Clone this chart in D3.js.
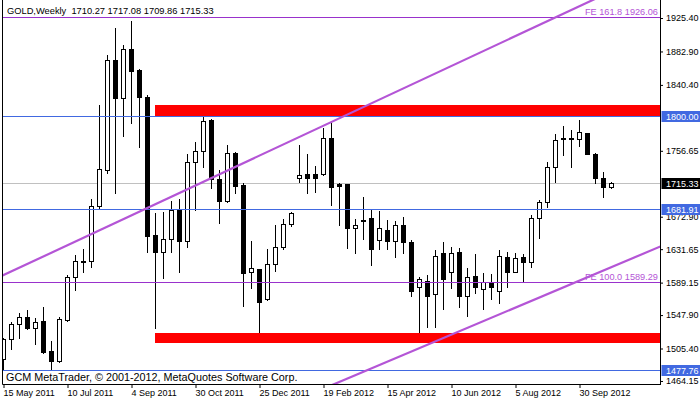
<!DOCTYPE html>
<html><head><meta charset="utf-8">
<script src="https://cdn.jsdelivr.net/npm/d3@7"></script>
<style>
body{margin:0;background:#fff}
svg{display:block}
text{font-family:"Liberation Sans",Arial,sans-serif}
</style>
</head><body>
<svg id="c" width="700" height="402"></svg>
<script>
// ---- data (weekly OHLC) ----
const opens  = [1491.6,1517.0,1536.1,1545.0,1531.0,1539.9,1501.8,1489.9,1541.6,1595.8,
                1615.3,1616.2,1686.9,1732.2,1872.0,1823.3,1885.6,1859.3,1824.6,1649.2,
                1628.4,1644.1,1681.4,1642.4,1742.0,1755.9,1795.8,1720.8,1693.3,1753.4,
                1713.2,1602.2,1606.0,1567.9,1612.3,1633.9,1663.2,1721.6,1726.7,1726.7,
                1727.1,1772.5,1714.4,1714.4,1658.1,1667.5,1670.8,1643.3,1656.0,1642.4,
                1662.3,1640.3,1584.0,1591.6,1574.2,1626.3,1602.2,1627.6,1572.1,1597.9,
                1580.6,1588.2,1578.9,1622.1,1603.0,1621.2,1615.7,1670.8,1691.1,1735.6,
                1772.0,1773.3,1771.2,1778.8,1752.6,1721.6,1710.27];
const highs  = [1519.0,1539.5,1550.1,1554.3,1543.7,1558.5,1514.5,1545.0,1598.4,1623.8,
                1632.3,1694.9,1814.8,1878.4,1912.3,1891.1,1921.6,1860.0,1827.1,1677.2,
                1678.9,1693.3,1694.9,1752.6,1767.4,1802.5,1796.5,1732.2,1764.0,1755.5,
                1715.3,1642.0,1606.5,1631.8,1662.3,1669.5,1679.3,1764.0,1752.6,1737.3,
                1786.0,1792.4,1716.1,1714.9,1669.5,1697.5,1681.4,1680.1,1668.7,1667.8,
                1672.1,1643.3,1596.7,1598.8,1630.6,1641.2,1633.9,1632.6,1607.3,1625.1,
                1600.9,1600.1,1630.6,1627.6,1626.3,1625.1,1675.0,1694.1,1742.8,1778.0,
                1788.1,1783.0,1795.8,1779.7,1753.4,1729.3,1717.08];
const lows   = [1479.0,1504.3,1519.2,1529.7,1510.7,1499.2,1478.0,1488.6,1540.8,1579.7,
                1603.0,1609.4,1682.2,1728.0,1702.6,1775.4,1792.4,1761.9,1628.4,1531.0,
                1595.4,1628.4,1603.0,1634.8,1681.4,1735.6,1709.8,1665.3,1692.0,1702.6,
                1559.8,1582.7,1522.5,1567.0,1604.3,1631.8,1661.5,1717.4,1703.4,1704.7,
                1725.9,1687.8,1662.3,1633.5,1627.1,1644.5,1611.5,1631.4,1631.4,1622.1,
                1626.3,1572.5,1526.8,1533.1,1532.3,1555.2,1581.8,1557.7,1547.1,1576.3,
                1555.2,1567.9,1562.8,1584.0,1602.2,1589.5,1609.4,1645.4,1685.6,1717.4,
                1751.3,1736.5,1763.1,1752.1,1716.1,1698.3,1709.86];
const closes = [1517.0,1536.1,1545.0,1531.0,1538.6,1501.4,1489.9,1542.4,1595.8,1616.2,
                1616.0,1686.9,1733.1,1872.0,1823.3,1885.6,1858.5,1824.6,1648.8,1628.4,
                1644.1,1681.4,1642.4,1742.0,1755.9,1794.5,1720.8,1693.3,1753.4,1711.9,
                1601.8,1607.3,1564.0,1612.3,1633.9,1663.2,1677.2,1725.9,1721.6,1722.5,
                1772.5,1711.0,1712.3,1658.9,1662.3,1668.3,1631.4,1658.1,1642.4,1662.3,
                1641.2,1578.9,1593.3,1572.5,1623.4,1593.3,1626.3,1572.5,1596.7,1584.0,
                1590.3,1584.0,1623.4,1603.0,1620.0,1615.7,1670.8,1691.1,1735.6,1770.3,
                1772.5,1771.2,1780.1,1752.6,1721.6,1711.0,1715.33];

const dateLabels  = ["15 May 2011","10 Jul 2011","4 Sep 2011","30 Oct 2011","25 Dec 2011",
                     "19 Feb 2012","15 Apr 2012","10 Jun 2012","5 Aug 2012","30 Sep 2012"];
const dateTickIdx = [0,8,16,24,32,40,48,56,64,72];
const priceTicks  = [1925.40,1882.90,1840.40,1756.65,1672.90,1631.65,1589.15,1547.90,1505.40,1464.15];

const blueLevels   = [1800.00,1681.91,1477.76];
const feLevels     = [1926.06,1589.29];
const feNames      = ["FE 161.8","FE 100.0"];
const currentPrice = 1715.33;
const zoneStart    = [19,19];
const zoneLow      = [1801.0,1512.0];
const zoneHigh     = [1814.5,1525.5];
const upperTrend   = [[0,1598.7],[41,1793.3]];
const lowerTrend   = [[42,1463.0],[82,1634.6]];
const headerText   = "GOLD,Weekly  1710.27 1717.08 1709.86 1715.33";
const copyrightText= "GCM MetaTrader, © 2001-2012, MetaQuotes Software Corp.";

// ---- layout ----
const L = 3, R = 660, T = 0, B = 384;
const svg = d3.select("#c");
const x = d3.scaleLinear().domain([0,82]).range([3.5,659.5]);
const y = d3.scaleLinear().domain([1460.3,1948.3]).range([B,T]);
const py = v => Math.floor(y(v)) + 0.5;

svg.append("defs").append("clipPath").attr("id","clip")
  .append("rect").attr("x",L).attr("y",T).attr("width",R-L).attr("height",B-T);
const plot = svg.append("g").attr("clip-path","url(#clip)");

// current price line (behind candles)
plot.append("line").attr("x1",L).attr("x2",R).attr("y1",py(currentPrice)).attr("y2",py(currentPrice))
  .attr("stroke","#c0c0c0").attr("stroke-width",1);

// candles
const idx = d3.range(opens.length);
const cg = plot.append("g").attr("shape-rendering","crispEdges");
idx.forEach(i=>{
  const xc = x(i);
  cg.append("line").attr("x1",xc).attr("x2",xc).attr("y1",Math.round(y(highs[i]))).attr("y2",Math.round(y(lows[i]))+1)
    .attr("stroke","#000").attr("stroke-width",1);
  const up = closes[i] >= opens[i];
  const top = Math.round(y(Math.max(opens[i],closes[i])));
  const bot = Math.round(y(Math.min(opens[i],closes[i])));
  if (up) {
    cg.append("rect").attr("x",xc-2).attr("y",top+0.5).attr("width",4).attr("height",Math.max(0,bot-top))
      .attr("fill","#fff").attr("stroke","#000").attr("stroke-width",1);
  } else {
    cg.append("rect").attr("x",xc-2.5).attr("y",top).attr("width",5).attr("height",Math.max(1,bot-top+1))
      .attr("fill","#000");
  }
});

// red zones
zoneStart.forEach((s,k)=>{
  plot.append("rect").attr("x",x(s)-0.5).attr("width",R-(x(s)-0.5))
    .attr("y",Math.round(y(zoneHigh[k]))).attr("height",Math.round(y(zoneLow[k]))-Math.round(y(zoneHigh[k])))
    .attr("fill","#ff0000").attr("shape-rendering","crispEdges");
});

// horizontal levels
blueLevels.forEach(v=>{
  plot.append("line").attr("x1",L).attr("x2",R).attr("y1",py(v)).attr("y2",py(v))
    .attr("stroke","#4169e1").attr("stroke-width",1).attr("shape-rendering","crispEdges");
});
feLevels.forEach((v,k)=>{
  plot.append("line").attr("x1",L).attr("x2",R).attr("y1",py(v)).attr("y2",py(v))
    .attr("stroke","#9932cc").attr("stroke-width",1).attr("shape-rendering","crispEdges");
  svg.append("text").attr("x",658).attr("y",py(v)-2.5).attr("text-anchor","end")
    .attr("font-size","9.2px").attr("fill","#b455d6").text(feNames[k]+" "+v.toFixed(2));
});

// trend lines
function trend(pts, i0, i1){
  const [a,b]=pts, s=(b[1]-a[1])/(b[0]-a[0]);
  const f=i=>a[1]+s*(i-a[0]);
  plot.append("line").attr("x1",x(i0)).attr("y1",y(f(i0))).attr("x2",x(i1)).attr("y2",y(f(i1)))
    .attr("stroke","#b455d6").attr("stroke-width",2.2);
}
trend(upperTrend,-2,90);
trend(lowerTrend,30,90);

// frame
svg.append("line").attr("x1",L-0.5).attr("x2",L-0.5).attr("y1",0).attr("y2",B+0.5).attr("stroke","#000");
svg.append("line").attr("x1",L-0.5).attr("x2",R+0.5).attr("y1",B+0.5).attr("y2",B+0.5).attr("stroke","#000");
svg.append("line").attr("x1",R+0.5).attr("x2",R+0.5).attr("y1",0).attr("y2",B+1).attr("stroke","#000");

// axes
const ya = svg.append("g").attr("transform",`translate(${R},0)`)
  .call(d3.axisRight(y).tickValues(priceTicks).tickSize(3).tickPadding(3).tickFormat(d3.format(".2f")));
ya.select(".domain").remove();
ya.selectAll("text").attr("font-size","9px").attr("font-family","Liberation Sans, Arial, sans-serif").attr("fill","#000");
ya.selectAll("line").attr("stroke","#000");

const xa = svg.append("g").attr("transform",`translate(0,${B})`)
  .call(d3.axisBottom(x).tickValues(dateTickIdx).tickSize(4).tickPadding(2).tickFormat((d,k)=>dateLabels[k]));
xa.select(".domain").remove();
xa.selectAll("text").attr("text-anchor","start").attr("x",-0.5).attr("dy","0.71em")
  .attr("font-size","9px").attr("font-family","Liberation Sans, Arial, sans-serif").attr("fill","#000");
xa.selectAll("line").attr("stroke","#000");

// axis price labels
function axisLabel(v,bg){
  const yy = py(v);
  svg.append("rect").attr("x",R+1.5).attr("y",yy-5.5).attr("width",700-R-1.5).attr("height",11).attr("fill",bg);
  svg.append("text").attr("x",R+6).attr("y",yy).attr("dy","0.34em").attr("font-size","9px")
    .attr("fill","#fff").text(v.toFixed(2));
}
blueLevels.forEach(v=>axisLabel(v,"#4169e1"));
axisLabel(currentPrice,"#000");

// header and copyright
svg.append("text").attr("x",7).attr("y",14).attr("font-size","9.3px").style("white-space","pre")
  .attr("fill","#000").text(headerText);
svg.append("text").attr("x",6).attr("y",381).attr("font-size","10.8px").attr("fill","#000").text(copyrightText);
</script>
</body></html>
